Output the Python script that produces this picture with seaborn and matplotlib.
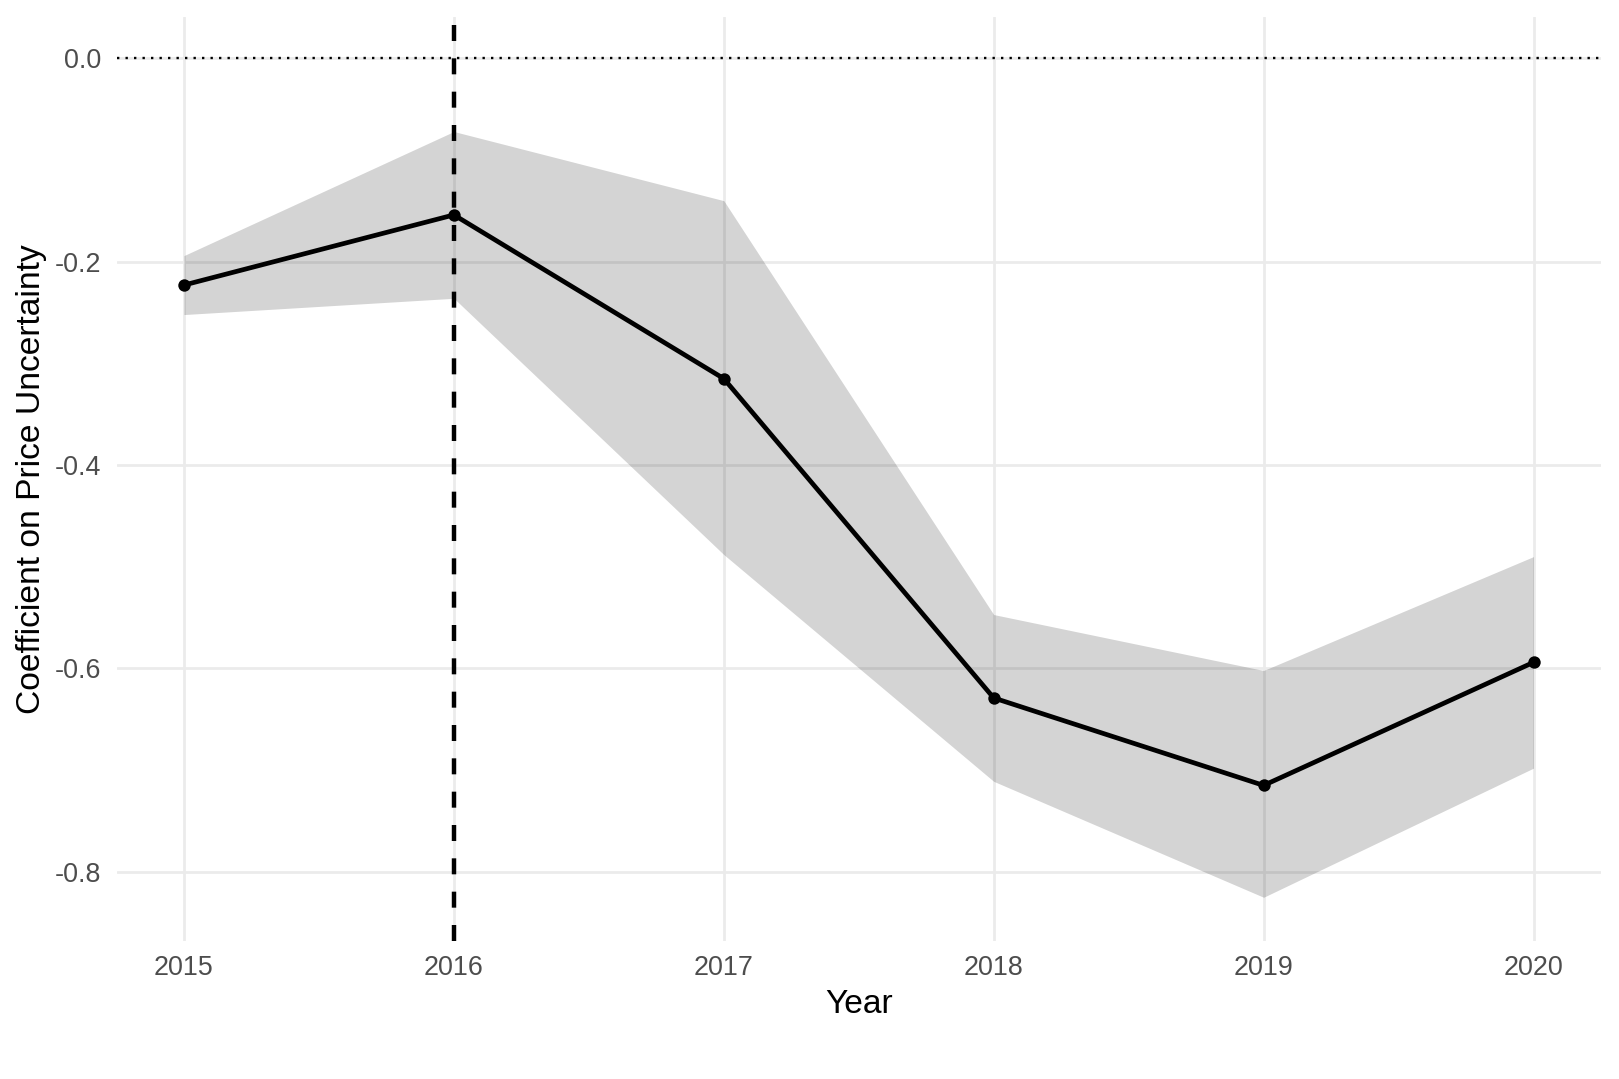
import matplotlib
matplotlib.use("Agg")
import matplotlib.pyplot as plt
import seaborn as sns
import pandas as pd

years = [2015, 2016, 2017, 2018, 2019, 2020]
coef = [-0.223, -0.154, -0.315, -0.629, -0.715, -0.594]
ci_upper = [-0.194, -0.072, -0.140, -0.547, -0.602, -0.490]
ci_lower = [-0.252, -0.236, -0.488, -0.711, -0.825, -0.698]
y_ticks = [0.0, -0.2, -0.4, -0.6, -0.8]
y_tick_labels = ["0.0", "-0.2", "-0.4", "-0.6", "-0.8"]
x_label = "Year"
y_label = "Coefficient on Price Uncertainty"
event_year = 2016

df = pd.DataFrame({"Year": years, "coef": coef, "lo": ci_lower, "hi": ci_upper})

sns.set_theme(style="white")
plt.rcParams["font.family"] = ["Liberation Sans", "DejaVu Sans"]

fig = plt.figure(figsize=(1619 / 200, 1079 / 200), dpi=200)
ax = fig.add_axes([116.5 / 1619, 1 - 941 / 1079, (1601 - 116.5) / 1619, (941 - 17) / 1079])

# grid
for yt in y_ticks:
    ax.axhline(yt, color="#ebebeb", lw=1.0, zorder=0)
for xt in years:
    ax.axvline(xt, color="#ebebeb", lw=1.0, zorder=0)

ax.fill_between(df["Year"], df["lo"], df["hi"], color="black", alpha=0.17, lw=0, zorder=1)
ax.axhline(0, color="black", lw=0.85, linestyle=(0, (1, 2.6)), zorder=2)
ax.axvline(event_year, color="black", lw=1.6, linestyle=(0, (3.6, 3.9)), zorder=2)

sns.lineplot(data=df, x="Year", y="coef", color="black", lw=1.7, ax=ax, zorder=3)
sns.scatterplot(data=df, x="Year", y="coef", color="black", s=20, linewidth=0, ax=ax, zorder=4)

ax.set_xlim(2014.75, 2020.25)
ax.set_ylim(-0.868, 0.0406)
ax.set_xticks(years)
ax.set_xticklabels([str(y) for y in years])
ax.set_yticks(y_ticks)
ax.set_yticklabels(y_tick_labels)
ax.tick_params(axis="both", length=0, labelsize=9.7, labelcolor="#4d4d4d")
ax.tick_params(axis="x", pad=5.0)
ax.tick_params(axis="y", pad=5.4)
ax.set_xlabel(x_label, fontsize=12.1, color="black", labelpad=3)
ax.set_ylabel(y_label, fontsize=12.1, color="black", labelpad=3)
for s in ax.spines.values():
    s.set_visible(False)
ax.grid(False)

fig.savefig("out.png", dpi=200, facecolor="white")
